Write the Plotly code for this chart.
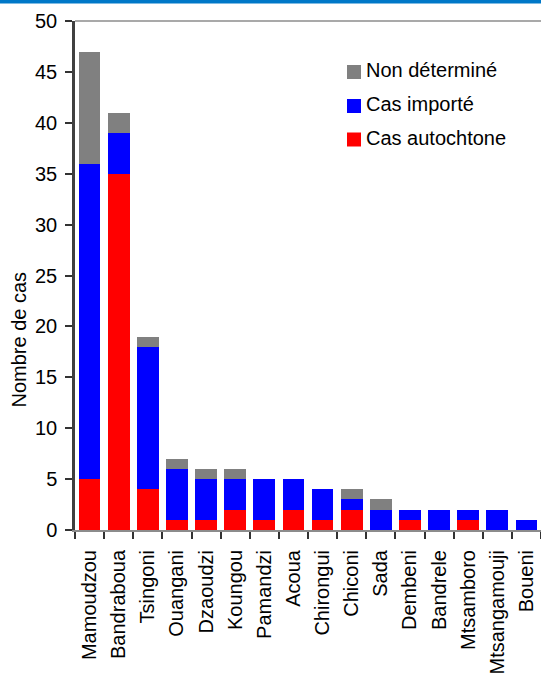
import plotly.graph_objects as go

communes = ["Mamoudzou", "Bandraboua", "Tsingoni", "Ouangani", "Dzaoudzi", "Koungou",
            "Pamandzi", "Acoua", "Chirongui", "Chiconi", "Sada", "Dembeni", "Bandrele",
            "Mtsamboro", "Mtsangamouji", "Boueni"]
autochtone = [5, 35, 4, 1, 1, 2, 1, 2, 1, 2, 0, 1, 0, 1, 0, 0]
importe = [31, 4, 14, 5, 4, 3, 4, 3, 3, 1, 2, 1, 2, 1, 2, 1]
non_determine = [11, 2, 1, 1, 1, 1, 0, 0, 0, 1, 1, 0, 0, 0, 0, 0]
y_ticks = [0, 5, 10, 15, 20, 25, 30, 35, 40, 45, 50]

series_names = ["Cas autochtone", "Cas importé", "Non déterminé"]
series_colors = ["#FF0000", "#0000FF", "#808080"]
series_values = [autochtone, importe, non_determine]

FONT = "Liberation Sans, Arial, sans-serif"
W, H = 541, 673
L, R, T, B = 75, 0, 21, 143
PH = H - T - B
PW = W - L - R

fig = go.Figure()
for name, color, vals in zip(series_names, series_colors, series_values):
    fig.add_trace(go.Bar(x=communes, y=vals, name=name, showlegend=False,
                         marker=dict(color=color, line=dict(width=0))))

def py(page_y):
    return (H - B - page_y) / PH

def px(page_x):
    return (page_x - L) / PW

shapes = [
    dict(type="rect", xref="paper", yref="paper", x0=px(-5), x1=px(W + 5),
         y0=py(0), y1=py(3.5), fillcolor="#0078C8", line=dict(width=0), layer="above"),
    dict(type="line", xref="paper", yref="paper", x0=0, x1=1, y0=1, y1=1,
         line=dict(color="#8C8C8C", width=1.5)),
]
annotations = [
    dict(text="Nombre de cas", xref="paper", yref="paper", x=px(18.5), y=py(340),
         textangle=-90, showarrow=False, xanchor="center", yanchor="middle",
         font=dict(size=20, family=FONT, color="black")),
]
# custom legend (top to bottom: Non déterminé, Cas importé, Cas autochtone)
legend_rows = [(2, 70), (1, 104), (0, 137.5)]
for idx, yc in legend_rows:
    shapes.append(dict(type="rect", xref="paper", yref="paper",
                       x0=px(347), x1=px(361), y0=py(yc - 5), y1=py(yc + 9),
                       fillcolor=series_colors[idx], line=dict(width=0)))
    annotations.append(dict(text=series_names[idx], xref="paper", yref="paper",
                            x=px(364), y=py(yc), xanchor="left", yanchor="middle",
                            showarrow=False, font=dict(size=20, family=FONT, color="black")))

fig.update_layout(
    width=W, height=H,
    margin=dict(l=L, r=R, t=T, b=B, pad=0, autoexpand=False),
    barmode="stack", bargap=0.25,
    plot_bgcolor="white", paper_bgcolor="white",
    font=dict(family=FONT, size=20, color="black"),
    shapes=shapes, annotations=annotations,
)
fig.update_xaxes(type="category", tickangle=-90, tickson="boundaries",
                 ticks="outside", ticklen=7, tickcolor="#333333", tickwidth=1.5,
                 showline=True, linecolor="#8C8C8C", linewidth=2, automargin=False,
                 showgrid=False, tickfont=dict(size=20), ticklabelstandoff=10)
fig.update_yaxes(range=[0, 50], tickvals=y_ticks, ticks="outside", ticklen=7,
                 tickcolor="#333333", tickwidth=1.5, automargin=False,
                 showline=True, linecolor="#404040", linewidth=2.5,
                 showgrid=False, zeroline=False, tickfont=dict(size=20),
                 ticklabelstandoff=4)

fig.write_html("out.html", config={"displayModeBar": False},
               post_script="document.body.style.margin='0';")
